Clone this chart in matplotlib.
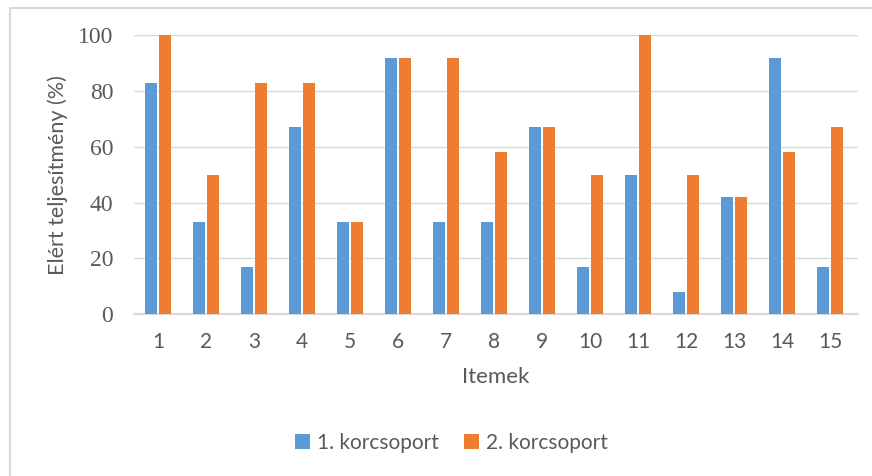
import matplotlib.pyplot as plt
import numpy as np
from matplotlib.patches import Rectangle

# Data
items = [str(i) for i in range(1, 16)]
group1 = [83, 33, 17, 67, 33, 92, 33, 33, 67, 17, 50, 8, 42, 92, 17]
group2 = [100, 50, 83, 83, 33, 92, 92, 58, 67, 50, 100, 50, 42, 58, 67]
series_names = ["1. korcsoport", "2. korcsoport"]

blue = '#5b9bd5'
orange = '#ed7d31'
text_col = '#595959'

fig = plt.figure(figsize=(8.72, 4.76), dpi=100)
ax = fig.add_axes([0.1537, 0.340, 0.830, 0.586])

# chart frame
fig.patches.append(Rectangle((0.011, -0.01), 1.0, 0.993, transform=fig.transFigure,
                             fill=False, edgecolor='#d9d9d9', linewidth=1.5))

x = np.arange(1, len(items) + 1)
w = 0.25
ax.bar(x - 0.145, group1, w, color=blue, label=series_names[0], zorder=3)
ax.bar(x + 0.145, group2, w, color=orange, label=series_names[1], zorder=3)

ax.set_xlim(0.5, 15.58)
ax.set_ylim(0, 100)
ax.set_yticks(range(0, 101, 20))
ax.yaxis.grid(True, color='#d9d9d9', linewidth=1, zorder=0)
ax.set_axisbelow(True)

for s in ['top', 'right', 'left']:
    ax.spines[s].set_visible(False)
ax.spines['bottom'].set_color('#d9d9d9')
ax.spines['bottom'].set_linewidth(1.5)
ax.tick_params(length=0)

ax.set_xticks(x)
ax.set_xticklabels(items, fontsize=15, color=text_col, family='Lato')
ax.tick_params(axis='x', pad=13)
for lab in ax.get_yticklabels():
    lab.set_family('Liberation Serif')
    lab.set_fontsize(17)
    lab.set_color(text_col)
ax.tick_params(axis='y', pad=15)

ax.set_xlabel("Itemek", fontsize=16, color=text_col, labelpad=11, family='Lato')
# y axis title placed in figure coordinates
fig.text(58 / 872, 1 - 175 / 476, "Elért teljesítmény (%)", rotation=90,
         ha='center', va='center', fontsize=15.5, color=text_col, family='Lato')

fig.legend(loc='center', bbox_to_anchor=(0.518, 0.07), ncol=2, frameon=False,
           handlelength=0.7, handleheight=0.7, handletextpad=0.35,
           columnspacing=1.2, labelcolor=text_col, prop={'family': 'Lato', 'size': 15})

fig.savefig('out.png', dpi=100)
